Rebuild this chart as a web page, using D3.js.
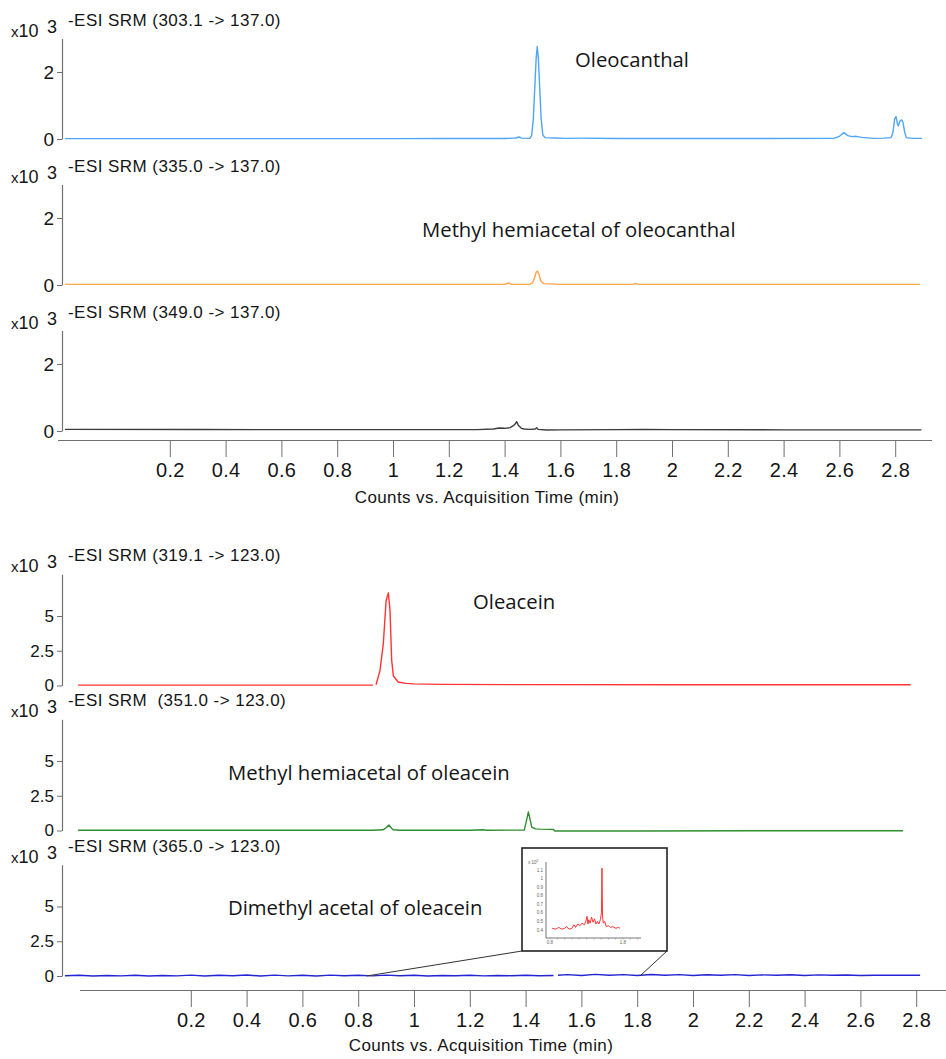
<!DOCTYPE html>
<html>
<head>
<meta charset="utf-8">
<script src="https://cdn.jsdelivr.net/npm/d3@7"></script>
<style>
  body { margin: 0; background: #fff; }
  svg { display: block; }
</style>
</head>
<body>
<svg id="chart" width="946" height="1059"></svg>
<script>
// ---- Data: [time (min), counts x10^3]; null marks a break in the trace ----
const oleocanthalTrace = [
  [-0.176,0.01],[0.1,0.012],[0.4,0.01],[0.7,0.012],[1.0,0.012],[1.2,0.015],[1.4,0.015],
  [1.44,0.03],[1.452,0.06],[1.46,0.025],[1.49,0.02],[1.497,0.1],[1.503,0.6],[1.508,1.5],
  [1.513,2.4],[1.517,2.76],[1.521,2.4],[1.526,1.5],[1.531,0.6],[1.537,0.12],[1.545,0.04],
  [1.58,0.03],[1.62,0.02],[1.68,0.025],[1.8,0.015],[2.0,0.015],[2.3,0.015],[2.58,0.02],
  [2.6,0.08],[2.616,0.19],[2.63,0.1],[2.645,0.07],[2.66,0.08],[2.68,0.05],[2.72,0.02],
  [2.76,0.025],[2.785,0.04],[2.792,0.2],[2.798,0.6],[2.803,0.67],[2.808,0.45],[2.811,0.39],
  [2.816,0.52],[2.823,0.57],[2.828,0.5],[2.834,0.2],[2.84,0.04],[2.86,0.02],[2.896,0.02]
];
const hemiacetalOleocanthalTrace = [
  [-0.176,0.02],[0.5,0.02],[1.0,0.02],[1.4,0.02],[1.415,0.06],[1.425,0.02],[1.49,0.02],
  [1.5,0.06],[1.507,0.2],[1.513,0.38],[1.518,0.42],[1.524,0.3],[1.53,0.12],[1.54,0.04],
  [1.6,0.02],[1.86,0.02],[1.87,0.05],[1.88,0.02],[2.5,0.02],[2.889,0.02]
];
const srm349Trace = [
  [-0.176,0.05],[0.3,0.045],[0.6,0.04],[1.0,0.04],[1.3,0.04],[1.36,0.06],[1.38,0.09],
  [1.4,0.08],[1.42,0.1],[1.43,0.15],[1.437,0.2],[1.443,0.28],[1.449,0.17],[1.46,0.08],
  [1.47,0.06],[1.49,0.05],[1.51,0.06],[1.515,0.1],[1.52,0.05],[1.55,0.03],[1.6,0.035],
  [1.8,0.04],[1.9,0.05],[2.0,0.04],[2.4,0.035],[2.894,0.035]
];
const oleaceinTrace = [
  [-0.204,0.03],[0.2,0.03],[0.5,0.03],[0.853,0.03],[0.858,null],[0.864,0.05],[0.878,1.07],
  [0.89,3.0],[0.9,6.1],[0.908,6.66],[0.914,5.4],[0.92,1.8],[0.926,0.7],[0.943,0.25],
  [0.97,0.15],[1.0,0.12],[1.1,0.08],[1.4,0.06],[2.0,0.05],[2.78,0.05]
];
const hemiacetalOleaceinTrace = [
  [-0.204,0.02],[0.5,0.02],[0.85,0.02],[0.889,0.05],[0.9,0.2],[0.91,0.4],[0.918,0.2],
  [0.925,0.05],[0.95,0.02],[1.2,0.02],[1.247,0.05],[1.26,0.02],[1.395,0.03],[1.402,0.6],
  [1.41,1.34],[1.416,0.8],[1.422,0.25],[1.435,0.12],[1.452,0.1],[1.487,0.08],[1.5,0.07],
  [1.505,-0.04],[1.8,-0.04],[2.2,-0.02],[2.753,-0.02]
];
const dimethylAcetalTrace = [
  [-0.251,0.02],[-0.2,0.05],[-0.15,0.0],[-0.1,0.04],[-0.05,0.01],[0.0,0.05],[0.05,0.0],
  [0.1,0.04],[0.15,0.01],[0.2,0.06],[0.25,0.0],[0.3,0.05],[0.35,0.02],[0.4,0.07],[0.45,0.0],
  [0.5,0.06],[0.55,0.01],[0.6,0.05],[0.65,0.0],[0.7,0.06],[0.75,0.02],[0.8,0.05],[0.85,0.01],
  [0.9,0.06],[0.95,0.02],[1.0,0.05],[1.05,0.0],[1.1,0.04],[1.15,0.02],[1.2,0.05],[1.25,0.01],
  [1.3,0.04],[1.35,0.02],[1.4,0.05],[1.45,0.02],[1.5,0.04],[1.505,null],[1.516,0.05],
  [1.55,0.1],[1.6,0.04],[1.65,0.12],[1.7,0.05],[1.75,0.1],[1.8,0.04],[1.85,0.11],[1.9,0.05],
  [1.95,0.1],[2.0,0.04],[2.05,0.09],[2.1,0.05],[2.15,0.1],[2.2,0.04],[2.25,0.08],[2.3,0.05],
  [2.35,0.09],[2.4,0.04],[2.45,0.08],[2.5,0.05],[2.55,0.07],[2.6,0.04],[2.65,0.05],
  [2.7,0.05],[2.75,0.05],[2.814,0.05]
];
// Enlarged view of the 365.0 -> 123.0 trace, counts x10^2
const dimethylDetailTrace = [
  [0.83,0.42],[0.88,0.41],[0.92,0.43],[0.96,0.41],[1.0,0.42],[1.03,0.44],[1.06,0.41],
  [1.1,0.42],[1.13,0.46],[1.15,0.43],[1.18,0.47],[1.21,0.45],[1.24,0.48],[1.27,0.46],
  [1.29,0.5],[1.307,0.56],[1.32,0.47],[1.33,0.52],[1.35,0.48],[1.37,0.55],[1.39,0.49],
  [1.41,0.53],[1.43,0.47],[1.45,0.5],[1.47,0.47],[1.49,0.52],[1.505,0.6],[1.512,1.12],
  [1.52,0.55],[1.53,0.48],[1.55,0.5],[1.57,0.44],[1.6,0.45],[1.63,0.43],[1.66,0.44],
  [1.7,0.42],[1.74,0.43],[1.76,0.42]
];

const timeTicks = [0.2,0.4,0.6,0.8,1,1.2,1.4,1.6,1.8,2,2.2,2.4,2.6,2.8];
const upperCountTicks = [0, 2];
const lowerCountTicks = [0, 2.5, 5];
const detailCountTicks = [0.4,0.5,0.6,0.7,0.8,0.9,1,1.1];
const detailTimeTicks = [0.8, 1.8];
const detailMinorTicks = [0.8,0.9,1.0,1.1,1.2,1.3,1.4,1.5,1.6,1.7,1.8,1.9,2.0];

const srmHeaders = [
  "-ESI SRM (303.1 -> 137.0)",
  "-ESI SRM (335.0 -> 137.0)",
  "-ESI SRM (349.0 -> 137.0)",
  "-ESI SRM (319.1 -> 123.0)",
  "-ESI SRM  (351.0 -> 123.0)",
  "-ESI SRM (365.0 -> 123.0)"
];
const compoundNames = [
  "Oleocanthal",
  "Methyl hemiacetal of oleocanthal",
  null,
  "Oleacein",
  "Methyl hemiacetal of oleacein",
  "Dimethyl acetal of oleacein"
];
const axisTitle = "Counts vs. Acquisition Time (min)";

// ---- Layout ----
const svg = d3.select("#chart");
const axisFont = "'Liberation Sans', Arial, sans-serif";
const nameFont = "'Open Sans', 'Noto Sans', sans-serif";
const axisGrey = "#707070";
const ink = "#151515";

const figures = {
  upper: {
    x: d3.scaleLinear().domain([0, 2.8]).range([114, 895.2]),
    yMax: 3, pxPerUnit: 33.5, yTicks: upperCountTicks, yFont: 19,
    axisY: 440, axisX0: 58, axisX1: 932, titleX: 487, titleY: 503
  },
  lower: {
    x: d3.scaleLinear().domain([0, 2.8]).range([135, 916.2]),
    yMax: 8, pxPerUnit: 13.9, yTicks: lowerCountTicks, yFont: 17,
    axisY: 990, axisX0: 80, axisX1: 946, titleX: 481, titleY: 1051
  }
};

const panels = [
  { fig: "upper", base: 139, trace: oleocanthalTrace, color: "#4ea6f5", nameX: 575, nameY: 67 },
  { fig: "upper", base: 285, trace: hemiacetalOleocanthalTrace, color: "#ffa54a", nameX: 422, nameY: 237 },
  { fig: "upper", base: 431, trace: srm349Trace, color: "#3c3c3c", nameX: 0, nameY: 0 },
  { fig: "lower", base: 685.5, trace: oleaceinTrace, color: "#ff3434", nameX: 473, nameY: 609 },
  { fig: "lower", base: 830.5, trace: hemiacetalOleaceinTrace, color: "#2f8f2f", nameX: 228, nameY: 780 },
  { fig: "lower", base: 976, trace: dimethylAcetalTrace, color: "#2424d4", nameX: 228, nameY: 915 }
];

const yAxisX = 62;

panels.forEach((p, i) => {
  const f = figures[p.fig];
  const top = p.base - f.yMax * f.pxPerUnit;
  const y = d3.scaleLinear().domain([0, f.yMax]).range([p.base, top]);
  const g = svg.append("g");

  // header line and exponent
  g.append("text")
    .attr("x", 68).attr("y", top - 13)
    .attr("font-family", axisFont).attr("font-size", 17).attr("fill", ink)
    .attr("letter-spacing", 0.45)
    .attr("xml:space", "preserve")
    .text(srmHeaders[i]);
  const exp = g.append("text")
    .attr("x", 11).attr("y", top - 2)
    .attr("font-family", axisFont).attr("fill", ink);
  exp.append("tspan").attr("font-size", 15).text("x");
  exp.append("tspan").attr("font-size", 18).text("10");
  g.append("text")
    .attr("x", 47).attr("y", top - 6)
    .attr("font-family", axisFont).attr("font-size", 18).attr("fill", ink)
    .text("3");

  // count axis
  const ax = g.append("g")
    .attr("transform", `translate(${yAxisX},0)`)
    .call(d3.axisLeft(y).tickValues(f.yTicks).tickSize(5).tickSizeOuter(0).tickPadding(3)
      .tickFormat(d => String(d)));
  ax.select(".domain").attr("stroke", axisGrey).attr("stroke-width", 1.2);
  ax.selectAll(".tick line").attr("stroke", axisGrey);
  ax.selectAll(".tick text")
    .attr("font-family", axisFont).attr("font-size", f.yFont).attr("fill", ink);

  // trace
  const line = d3.line()
    .defined(d => d[1] !== null)
    .x(d => f.x(d[0]))
    .y(d => y(d[1]));
  g.append("path")
    .datum(p.trace)
    .attr("d", line)
    .attr("fill", "none")
    .attr("stroke", p.color)
    .attr("stroke-width", 1.4)
    .attr("stroke-linejoin", "round");

  if (compoundNames[i]) {
    g.append("text")
      .attr("x", p.nameX).attr("y", p.nameY)
      .attr("font-family", nameFont).attr("font-size", 20.3).attr("fill", ink)
      .text(compoundNames[i]);
  }
  p.y = y;
});

// time axes
Object.values(figures).forEach(f => {
  const g = svg.append("g").attr("transform", `translate(0,${f.axisY})`);
  const ax = g.call(d3.axisBottom(f.x).tickValues(timeTicks).tickSize(17).tickPadding(6)
    .tickFormat(d3.format("~g")));
  ax.select(".domain").remove();
  ax.selectAll(".tick line").attr("stroke", axisGrey);
  ax.selectAll(".tick text")
    .attr("font-family", axisFont).attr("font-size", 20).attr("fill", ink)
    .attr("letter-spacing", 0.3);
  g.append("line")
    .attr("x1", f.axisX0).attr("x2", f.axisX1)
    .attr("y1", 0.5).attr("y2", 0.5)
    .attr("stroke", axisGrey).attr("stroke-width", 1.2);
  svg.append("text")
    .attr("x", f.titleX).attr("y", f.titleY)
    .attr("text-anchor", "middle")
    .attr("font-family", axisFont).attr("font-size", 17).attr("fill", ink)
    .attr("letter-spacing", 0.4)
    .text(axisTitle);
});

// ---- Enlarged view of the dimethyl acetal trace ----
const lowerX = figures.lower.x;
const dimethylPanel = panels[5];
const box = { x: 522, y: 848, w: 145, h: 103 };
const zoomStart = 0.83, zoomEnd = 1.81;

svg.append("line")
  .attr("x1", box.x).attr("y1", box.y + box.h)
  .attr("x2", lowerX(zoomStart)).attr("y2", dimethylPanel.y(0))
  .attr("stroke", "#333").attr("stroke-width", 1);
svg.append("line")
  .attr("x1", box.x + box.w).attr("y1", box.y + box.h)
  .attr("x2", lowerX(zoomEnd)).attr("y2", dimethylPanel.y(0))
  .attr("stroke", "#333").attr("stroke-width", 1);
svg.append("rect")
  .attr("x", box.x).attr("y", box.y).attr("width", box.w).attr("height", box.h)
  .attr("fill", "#fff").attr("stroke", "#222").attr("stroke-width", 1.6);

const dx = d3.scaleLinear().domain([0.8, 1.8]).range([550, 623]);
const dy = d3.scaleLinear().domain([0.4, 1.1]).range([930, 870]);
const detail = svg.append("g");
detail.append("line")
  .attr("x1", 546).attr("x2", 546).attr("y1", 862).attr("y2", 938)
  .attr("stroke", "#555").attr("stroke-width", 0.8);
detail.append("line")
  .attr("x1", 546).attr("x2", 641).attr("y1", 938).attr("y2", 938)
  .attr("stroke", "#555").attr("stroke-width", 0.8);
detail.selectAll(".minor").data(detailMinorTicks).join("line")
  .attr("x1", d => dx(d)).attr("x2", d => dx(d))
  .attr("y1", 938).attr("y2", 939.5)
  .attr("stroke", "#777").attr("stroke-width", 0.5);
detail.selectAll(".ylab").data(detailCountTicks).join("text")
  .attr("x", 543).attr("y", d => dy(d) + 1.5)
  .attr("text-anchor", "end")
  .attr("font-family", axisFont).attr("font-size", 4.5).attr("fill", "#666")
  .text(d => String(d));
detail.selectAll(".xlab").data(detailTimeTicks).join("text")
  .attr("x", d => dx(d)).attr("y", 944)
  .attr("text-anchor", "middle")
  .attr("font-family", axisFont).attr("font-size", 4.5).attr("fill", "#666")
  .text(d => d.toFixed(1));
const dexp = detail.append("text")
  .attr("x", 528).attr("y", 864)
  .attr("font-family", axisFont).attr("fill", "#666");
dexp.append("tspan").attr("font-size", 4.5).text("x 10");
dexp.append("tspan").attr("font-size", 3.5).attr("dy", -2).text("2");
detail.append("path")
  .datum(dimethylDetailTrace)
  .attr("d", d3.line().x(d => dx(d[0])).y(d => dy(d[1])))
  .attr("fill", "none").attr("stroke", "#ff2020").attr("stroke-width", 0.9);
</script>
</body>
</html>
